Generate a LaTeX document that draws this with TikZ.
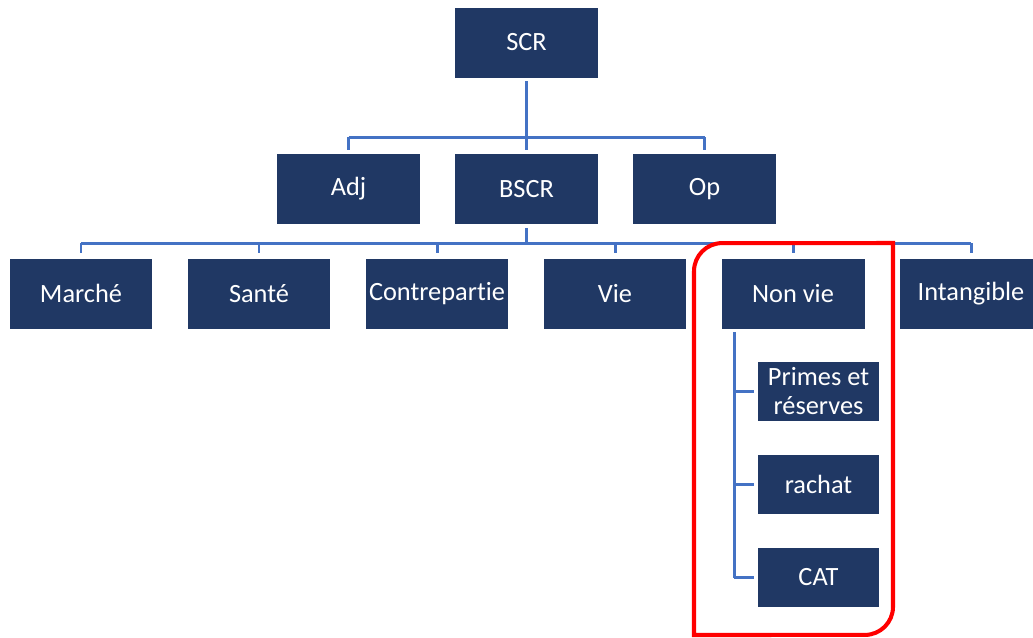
\documentclass[tikz,border=0pt]{standalone}
\usepackage{fontspec}
\setmainfont{Carlito}[Ligatures=NoCommon]
\usetikzlibrary{positioning,calc}
\definecolor{navy}{HTML}{203864}
\definecolor{linkblue}{HTML}{4472C4}

\begin{document}
\begin{tikzpicture}[x=0.02cm, y=-0.02cm,
  font=\fontsize{15}{17}\selectfont,
  box/.style={fill=navy, text=white, inner sep=0pt,
    minimum width=2.86cm, minimum height=1.4cm, align=center},
  subbox/.style={box, minimum width=2.42cm, minimum height=1.18cm},
  link/.style={draw=linkblue, line width=1.7pt},
  frame/.style={draw=red, line width=2.3pt}]

% page area
\path[use as bounding box, clip] (0,0) rectangle (1033,637);

% bus levels
\coordinate (bus1) at (0,137);
\coordinate (bus2) at (0,243);
\coordinate (spine) at (734,0);

% top
\node[box] (scr) at (526.5,42.5) {SCR};

% second row
\node[box] (adj)  at (348.5,189) {Adj};
\node[box] (bscr) at (526.5,189) {BSCR};
\node[box] (op)   at (704.5,189) {Op};

% third row
\node[box] (marche)  at (81,293.5)  {Marché};
\node[box] (sante)   at (259,293.5) {Santé};
\node[box] (contre)  at (437,293.5) {Contrepartie};
\node[box] (vie)     at (615,293.5) {Vie};
\node[box] (nonvie)  at (793,293.5) {Non vie};
\node[box] (intang)  at (971,293.5) {Intangible};

% non vie sub-modules
\node[subbox] (primes) at (818.5,391)   {Primes et\\réserves};
\node[subbox] (rachat) at (818.5,484.5) {rachat};
\node[subbox] (cat)    at (818.5,577.5) {CAT};

% SCR -> first level
\draw[link, shorten <=2pt] (scr.south) -- (scr.south |- bus1);
\draw[link] (adj.north |- bus1) -- (op.north |- bus1);
\foreach \c in {adj,bscr,op}
  \draw[link, shorten >=2pt] (\c.north |- bus1) -- (\c.north);

% BSCR -> modules
\draw[link, shorten <=2pt] (bscr.south) -- (bscr.south |- bus2);
\draw[link] (marche.north |- bus2) -- (intang.north |- bus2);
\foreach \c in {marche,sante,contre,vie,nonvie,intang}
  \draw[link, shorten >=3pt] (\c.north |- bus2) -- (\c.north);

% Non vie -> sub-modules
\draw[link, shorten <=2pt] (spine |- nonvie.south) -- (spine |- cat.west);
\foreach \s in {primes,rachat,cat}
  \draw[link, shorten >=2pt] (spine |- \s.west) -- (\s.west);

% red frame round non vie (top-left and bottom-right rounded)
\draw[frame] (694,635) -- (694,271.2)
  arc[start angle=180, end angle=90, radius=16pt] -- (893,243)
  -- (893,606.8) arc[start angle=0, end angle=-90, radius=16pt] -- cycle;

\end{tikzpicture}
\end{document}
